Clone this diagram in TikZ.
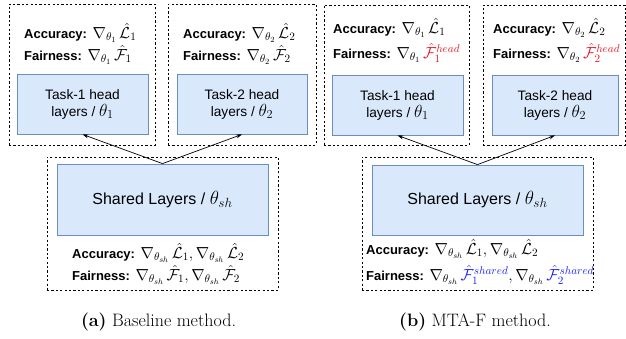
\RequirePackage{fix-cm}
\documentclass[tikz,border=0pt]{standalone}
\usepackage{fontspec}
\setsansfont{Liberation Sans}
\usetikzlibrary{arrows.meta}
\definecolor{layerfill}{HTML}{DAE8FC}
\definecolor{layerdraw}{HTML}{6C8EBF}
\definecolor{headred}{HTML}{E8141E}
\definecolor{sharedblue}{HTML}{1A1AFF}
\tikzset{
  layer/.style={draw=layerdraw, fill=layerfill, line width=0.8pt, align=center,
    font=\sffamily\fontsize{13.7}{17}\selectfont, inner sep=0pt},
  group/.style={draw, dashed, dash pattern=on 2.2pt off 2.2pt, line width=0.8pt, inner sep=0pt},
  grad/.style={anchor=west, inner sep=0pt, font=\fontsize{13}{14}\selectfont},
  caption/.style={font=\fontsize{18}{20}\selectfont}
}
\newcommand{\acc}{\textsf{\bfseries Accuracy:}}
\newcommand{\fair}{\textsf{\bfseries Fairness:}}
\newcommand{\gmath}[1]{{\fontsize{16}{14}\selectfont$#1$}}
\newcommand{\lmath}[1]{{\fontsize{17.5}{17}\selectfont$#1$}}
\begin{document}
\begin{tikzpicture}[x=1pt,y=-1pt,>={Stealth[length=6pt,width=4pt]}]
  \useasboundingbox (0,0) rectangle (626,339);
  % (a) baseline
  \node[group, minimum width=146pt, minimum height=141pt] (ga1) at (82,74.5) {};
  \node[group, minimum width=148pt, minimum height=141pt] (ga2) at (242,74.5) {};
  \node[group, minimum width=231pt, minimum height=133pt] (gash) at (162.5,223.5) {};
  \node[layer, minimum width=131pt, minimum height=60pt] (a1) at (82.5,104) {Task-1 head\\layers / \lmath{\theta_1}};
  \node[layer, minimum width=130pt, minimum height=60pt] (a2) at (242,104) {Task-2 head\\layers / \lmath{\theta_2}};
  \node[layer, minimum width=211pt, minimum height=71pt, font=\sffamily\fontsize{16}{18}\selectfont] (ash) at (162.5,199.5) {Shared Layers / {\fontsize{19}{18}\selectfont$\theta_{sh}$}};
  \node[grad] (aacc1) at (24,33) {\acc{} \gmath{\nabla_{\theta_1}\,\hat{\mathcal{L}}_1}};
  \node[grad] (afair1) at (24,55) {\fair{} \gmath{\nabla_{\theta_1}\,\hat{\mathcal{F}}_1}};
  \node[grad] (aacc2) at (183,33) {\acc{} \gmath{\nabla_{\theta_2}\,\hat{\mathcal{L}}_2}};
  \node[grad] (afair2) at (183,55) {\fair{} \gmath{\nabla_{\theta_2}\,\hat{\mathcal{F}}_2}};
  \node[grad] (aaccsh) at (72,253) {\acc{} \gmath{\nabla_{\theta_{sh}}\,\hat{\mathcal{L}}_1, \nabla_{\theta_{sh}}\,\hat{\mathcal{L}}_2}};
  \node[grad] (afairsh) at (72,275) {\fair{} \gmath{\nabla_{\theta_{sh}}\,\hat{\mathcal{F}}_1, \nabla_{\theta_{sh}}\,\hat{\mathcal{F}}_2}};
  \node[caption] (capa) at (158.5,322) {\textbf{(a)} Baseline method.};
  % (b) MTA-F
  \node[group, minimum width=145pt, minimum height=140pt] (gb1) at (396.5,75) {};
  \node[group, minimum width=142pt, minimum height=140pt] (gb2) at (554,75) {};
  \node[group, minimum width=231pt, minimum height=133pt] (gbsh) at (477.5,223.5) {};
  \node[layer, minimum width=131pt, minimum height=60pt] (b1) at (397.5,105) {Task-1 head\\layers / \lmath{\theta_1}};
  \node[layer, minimum width=126pt, minimum height=60pt] (b2) at (555,105) {Task-2 head\\layers / \lmath{\theta_2}};
  \node[layer, minimum width=211pt, minimum height=70pt, font=\sffamily\fontsize{16}{18}\selectfont] (bsh) at (477.5,200) {Shared Layers / {\fontsize{19}{18}\selectfont$\theta_{sh}$}};
  \node[grad] (bacc1) at (333,28) {\acc{} \gmath{\nabla_{\theta_1}\,\hat{\mathcal{L}}_1}};
  \node[grad] (bfair1) at (333,53) {\fair{} \gmath{\nabla_{\theta_1}\,\textcolor{headred}{\hat{\mathcal{F}}_1^{head}}}};
  \node[grad] (bacc2) at (493,28) {\acc{} \gmath{\nabla_{\theta_2}\,\hat{\mathcal{L}}_2}};
  \node[grad] (bfair2) at (493,53) {\fair{} \gmath{\nabla_{\theta_2}\,\textcolor{headred}{\hat{\mathcal{F}}_2^{head}}}};
  \node[grad] (baccsh) at (366,249) {\acc{} \gmath{\nabla_{\theta_{sh}}\,\hat{\mathcal{L}}_1, \nabla_{\theta_{sh}}\,\hat{\mathcal{L}}_2}};
  \node[grad] (bfairsh) at (366,275) {\fair{} \gmath{\nabla_{\theta_{sh}}\,\textcolor{sharedblue}{\hat{\mathcal{F}}_1^{shared}}, \nabla_{\theta_{sh}}\,\textcolor{sharedblue}{\hat{\mathcal{F}}_2^{shared}}}};
  \node[caption] (capb) at (475,322) {\textbf{(b)} MTA-F method.};
  \begin{scope}[->, line width=0.7pt]
    \draw (ash.north) to (a1.south);
    \draw (ash.north) to (a2.south);
    \draw (bsh.north) to (b1.south);
    \draw (bsh.north) to (b2.south);
  \end{scope}
\end{tikzpicture}
\end{document}
